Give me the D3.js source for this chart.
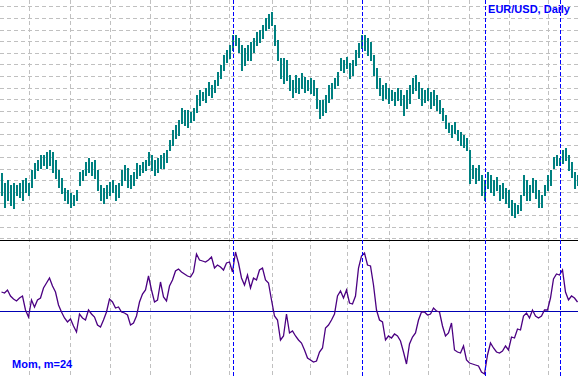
<!DOCTYPE html>
<html>
<head>
<meta charset="utf-8">
<script src="https://cdn.jsdelivr.net/npm/d3@7"></script>
<style>
  html, body { margin: 0; padding: 0; background: #fff; }
  svg { display: block; }
</style>
</head>
<body>
<svg id="chart"></svg>
<script>
// EUR/USD daily bars, high and low of each bar
const highs = [
  1.277,1.267,1.270,1.265,1.267,1.265,1.267,1.270,1.272,1.267,
  1.280,1.287,1.290,1.295,1.295,1.298,1.300,1.298,1.290,1.280,
  1.272,1.262,1.260,1.257,1.255,1.260,1.278,1.280,1.288,1.292,
  1.288,1.290,1.280,1.265,1.262,1.265,1.268,1.270,1.265,1.267,
  1.280,1.285,1.282,1.275,1.278,1.287,1.285,1.288,1.290,1.298,
  1.295,1.290,1.292,1.295,1.297,1.300,1.310,1.320,1.325,1.330,
  1.342,1.340,1.340,1.338,1.342,1.355,1.360,1.358,1.362,1.368,
  1.365,1.370,1.378,1.385,1.395,1.400,1.405,1.415,1.415,1.412,
  1.405,1.402,1.405,1.408,1.412,1.418,1.420,1.425,1.432,1.436,
  1.438,1.425,1.410,1.392,1.392,1.390,1.375,1.370,1.375,1.372,
  1.377,1.373,1.370,1.372,1.370,1.362,1.350,1.350,1.355,1.365,
  1.367,1.372,1.378,1.392,1.390,1.393,1.387,1.390,1.400,1.407,
  1.415,1.415,1.412,1.408,1.395,1.382,1.372,1.365,1.367,1.362,
  1.360,1.358,1.362,1.360,1.355,1.360,1.365,1.372,1.375,1.368,
  1.362,1.360,1.362,1.358,1.360,1.355,1.350,1.342,1.335,1.327,
  1.325,1.328,1.320,1.318,1.315,1.312,1.300,1.285,1.282,1.285,
  1.275,1.270,1.278,1.275,1.270,1.273,1.265,1.267,1.262,1.260,
  1.250,1.247,1.245,1.255,1.275,1.270,1.265,1.272,1.270,1.260,
  1.255,1.265,1.275,1.280,1.293,1.295,1.292,1.300,1.302,1.295,
  1.288,1.278,1.275
]
const lows = [
  1.255,1.243,1.250,1.245,1.242,1.255,1.253,1.250,1.258,1.255,
  1.263,1.272,1.280,1.282,1.285,1.282,1.285,1.278,1.272,1.263,
  1.257,1.250,1.247,1.243,1.245,1.250,1.265,1.270,1.275,1.278,
  1.275,1.272,1.260,1.250,1.247,1.252,1.255,1.258,1.250,1.253,
  1.265,1.270,1.263,1.262,1.265,1.272,1.275,1.278,1.280,1.285,
  1.280,1.275,1.278,1.282,1.282,1.288,1.300,1.305,1.312,1.315,
  1.327,1.325,1.323,1.328,1.330,1.338,1.345,1.350,1.348,1.355,
  1.353,1.358,1.365,1.372,1.380,1.388,1.392,1.400,1.405,1.398,
  1.380,1.385,1.390,1.390,1.398,1.405,1.408,1.412,1.420,1.422,
  1.425,1.405,1.390,1.372,1.367,1.370,1.360,1.353,1.358,1.357,
  1.362,1.358,1.360,1.357,1.355,1.342,1.332,1.335,1.338,1.348,
  1.352,1.362,1.365,1.380,1.378,1.382,1.372,1.375,1.385,1.393,
  1.402,1.400,1.395,1.390,1.375,1.362,1.355,1.350,1.352,1.347,
  1.350,1.345,1.350,1.345,1.335,1.342,1.347,1.357,1.360,1.352,
  1.345,1.348,1.350,1.342,1.345,1.340,1.337,1.330,1.322,1.318,
  1.313,1.317,1.310,1.305,1.303,1.300,1.267,1.272,1.267,1.270,
  1.255,1.250,1.262,1.258,1.255,1.260,1.250,1.252,1.247,1.243,
  1.235,1.233,1.237,1.240,1.255,1.250,1.250,1.258,1.252,1.243,
  1.243,1.255,1.260,1.265,1.282,1.285,1.285,1.287,1.290,1.280,
  1.273,1.262,1.265
]
// Momentum, period 24
const mom = [
  101.9,101.8,102.1,101.5,101.2,101.0,101.3,101.5,100.1,99.4,
  101.1,100.4,101.1,101.3,102.3,102.8,103.3,102.5,101.9,100.6,
  99.9,99.3,98.9,99.2,98.5,97.9,99.7,99.3,99.1,100.1,
  99.7,99.4,98.6,98.4,99.1,99.9,101.2,100.9,100.3,100.4,
  99.9,99.8,99.6,98.6,98.8,99.5,100.9,101.7,102.1,103.5,
  102.1,100.9,101.1,102.9,101.4,101.0,102.5,103.1,104.0,104.2,
  103.9,103.7,103.5,103.4,103.9,105.7,105.1,105.0,104.9,105.1,
  105.4,104.3,104.6,104.4,104.1,104.8,104.9,103.9,105.9,104.8,
  103.3,102.6,103.6,102.3,103.3,103.1,104.1,104.3,103.1,102.8,
  101.1,99.5,99.1,97.1,97.5,99.7,97.8,98.0,97.5,97.1,
  96.8,96.1,95.3,95.1,94.9,95.0,95.9,96.3,98.3,98.6,
  99.1,99.7,101.5,102.0,101.3,102.1,100.8,100.7,101.5,104.3,
  105.5,105.8,104.6,104.5,102.6,100.1,99.1,98.9,97.1,97.5,
  97.3,97.7,97.5,97.0,95.9,94.7,96.7,97.4,97.8,99.1,
  99.9,99.9,99.6,99.7,100.3,100.0,99.9,98.5,97.5,97.8,
  98.8,96.1,95.9,95.8,96.5,95.1,94.8,94.7,94.6,94.5,
  93.9,93.7,95.6,96.8,96.3,95.9,95.8,96.0,96.5,96.1,
  97.4,97.3,98.2,98.1,99.5,99.8,99.3,100.1,99.5,99.3,
  99.5,100.1,100.1,101.3,103.2,103.7,103.6,104.1,101.9,101.1,
  101.5,101.3,100.9
]
const momLevel = 100
// time grid (bar positions of the period separators) and marked bars
const gridBars = [9, 22.67, 36, 49.33, 62.67, 75.67, 90, 102.67, 115, 129, 142, 155.67, 169, 182]
const markBars = [77, 120, 161, 186]
const gridTop = 1.443
const gridStep = 0.01158
const gridCount = 21

const width = 578
const height = 376
const split = 240

const svg = d3.select("#chart").attr("width", width).attr("height", height)

const xScale = d3.scaleLinear().domain([0, highs.length - 1]).range([2.5, 2.5 + 3 * (highs.length - 1)])
const yPrice = d3.scaleLinear().domain([1.21, 1.45]).range([split, 0])
const yMom = d3.scaleLinear().domain([93.5, 107.1]).range([height, split])

const crisp = v => Math.floor(v) + 0.5

// grid
const levels = d3.range(gridCount).map(k => gridTop - k * gridStep)
svg.append("g")
  .attr("stroke", "#c0c0c0")
  .attr("stroke-dasharray", "4,3")
  .attr("shape-rendering", "crispEdges")
  .call(g => g.selectAll(".h")
    .data(levels)
    .join("line")
    .attr("class", "h")
    .attr("x1", 0)
    .attr("x2", width)
    .attr("y1", d => crisp(yPrice(d)))
    .attr("y2", d => crisp(yPrice(d))))
  .call(g => g.selectAll(".v")
    .data(gridBars)
    .join("line")
    .attr("class", "v")
    .attr("x1", d => crisp(xScale(d)))
    .attr("x2", d => crisp(xScale(d)))
    .attr("y1", 0)
    .attr("y2", height))

// price bars
svg.append("g")
  .attr("stroke", "#008080")
  .attr("stroke-width", 2)
  .attr("shape-rendering", "crispEdges")
  .selectAll("line")
  .data(highs)
  .join("line")
  .attr("x1", (d, i) => xScale(i) - 0.5)
  .attr("x2", (d, i) => xScale(i) - 0.5)
  .attr("y1", d => yPrice(d))
  .attr("y2", (d, i) => yPrice(lows[i]) + 1)

// panel separator
svg.append("line")
  .attr("x1", 0).attr("x2", width)
  .attr("y1", split + 0.5).attr("y2", split + 0.5)
  .attr("stroke", "#000")

// momentum 100 level
svg.append("line")
  .attr("x1", 0).attr("x2", width)
  .attr("y1", crisp(yMom(momLevel))).attr("y2", crisp(yMom(momLevel)))
  .attr("stroke", "#0000b4")

// momentum line
const line = d3.line()
  .x((d, i) => xScale(i) - 1)
  .y(d => yMom(d))

svg.append("path")
  .datum(mom)
  .attr("fill", "none")
  .attr("stroke", "#4b0082")
  .attr("stroke-width", 1.3)
  .attr("d", line)

// marked bars
svg.append("g")
  .attr("stroke", "#0000ff")
  .attr("stroke-dasharray", "4,2")
  .attr("shape-rendering", "crispEdges")
  .selectAll("line")
  .data(markBars)
  .join("line")
  .attr("x1", d => crisp(xScale(d)))
  .attr("x2", d => crisp(xScale(d)))
  .attr("y1", 0)
  .attr("y2", height)

// labels
svg.append("text")
  .attr("x", 570)
  .attr("y", 13)
  .attr("text-anchor", "end")
  .attr("font-family", "Liberation Sans, Arial, sans-serif")
  .attr("font-weight", "bold")
  .attr("font-size", 11)
  .attr("fill", "#0000ff")
  .text("EUR/USD, Daily")

svg.append("text")
  .attr("x", 12)
  .attr("y", 368)
  .attr("font-family", "Liberation Sans, Arial, sans-serif")
  .attr("font-weight", "bold")
  .attr("font-size", 11)
  .attr("fill", "#0000ff")
  .text("Mom, m=24")
</script>
</body>
</html>
